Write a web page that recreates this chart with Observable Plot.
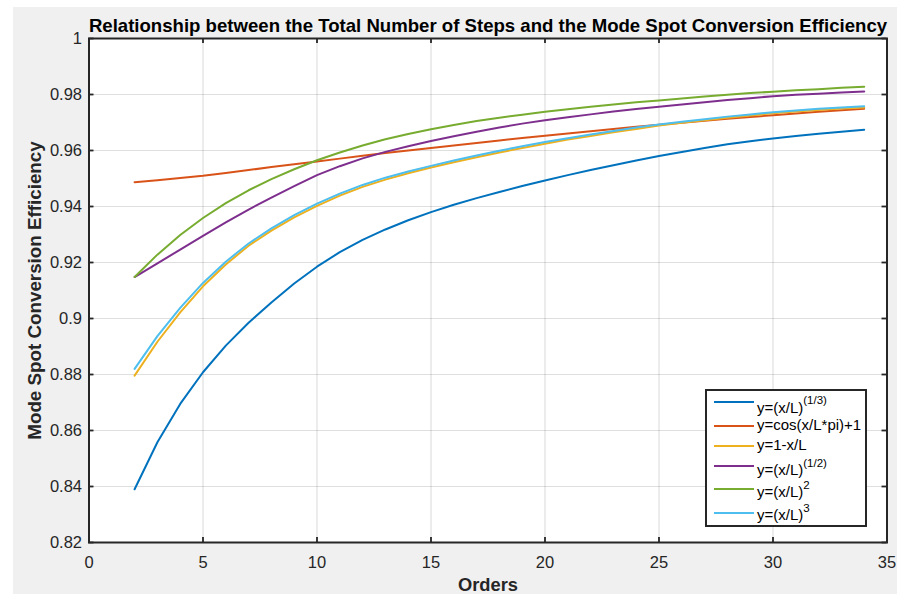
<!DOCTYPE html>
<html>
<head>
<meta charset="utf-8">
<script src="https://cdn.jsdelivr.net/npm/d3@7"></script>
<script src="https://cdn.jsdelivr.net/npm/@observablehq/plot@0.6"></script>
<style>
  html, body { margin: 0; padding: 0; background: #ffffff; }
  #wrap { position: relative; width: 897px; height: 594px; overflow: hidden; font-family: "Liberation Sans", Arial, Helvetica, sans-serif; }
  #panel { position: absolute; left: 13px; top: 7px; right: 0; bottom: 0; background: #f0f0f0; }
  #chart { position: absolute; left: 0; top: 0; }
  #legend { position: absolute; left: 705px; top: 389px; width: 158px; height: 134px; background: #fff; border: 2px solid #262626; }
  .row-line { position: absolute; height: 2.2px; width: 40px; left: 7px; }
  .row-text { position: absolute; left: 50px; font-size: 15px; line-height: 15px; color: #000; white-space: nowrap; }
  .row-text sup { font-size: 11.5px; vertical-align: baseline; position: relative; top: -8.5px; }
</style>
</head>
<body>
<div id="wrap">
  <div id="panel"></div>
  <div id="chart"></div>
  <div id="legend"></div>
</div>
<script>
// ---------- data ----------
const orders = [2,3,4,5,6,7,8,9,10,11,12,13,14,15,16,17,18,19,20,21,22,23,24,25,26,27,28,29,30,31,32,33,34];

const effCubeRoot = [0.8390,0.8558,0.8695,0.8808,0.8903,0.8985,0.9057,0.9125,0.9185,0.9237,0.9281,0.9318,0.9351,0.9380,0.9406,0.9430,0.9452,0.9473,0.9493,0.9512,0.9530,0.9547,0.9564,0.9580,0.9595,0.9609,0.9622,0.9633,0.9643,0.9652,0.9660,0.9667,0.9674];
const effCosine = [0.9487,0.9494,0.9502,0.9510,0.9520,0.9530,0.9541,0.9551,0.9561,0.9571,0.9581,0.9591,0.9600,0.9609,0.9618,0.9627,0.9636,0.9645,0.9653,0.9661,0.9669,0.9677,0.9685,0.9692,0.9699,0.9706,0.9713,0.9720,0.9726,0.9732,0.9738,0.9744,0.9749];
const effLinear = [0.8796,0.8917,0.9022,0.9115,0.9193,0.9260,0.9314,0.9361,0.9402,0.9439,0.9470,0.9496,0.9519,0.9539,0.9558,0.9576,0.9593,0.9609,0.9624,0.9639,0.9652,0.9665,0.9677,0.9689,0.9699,0.9708,0.9717,0.9725,0.9733,0.9739,0.9745,0.9750,0.9754];
const effSqrt = [0.9148,0.9197,0.9246,0.9295,0.9343,0.9389,0.9432,0.9473,0.9512,0.9544,0.9572,0.9595,0.9615,0.9634,0.9651,0.9667,0.9682,0.9696,0.9708,0.9719,0.9729,0.9739,0.9748,0.9756,0.9764,0.9772,0.9780,0.9787,0.9794,0.9799,0.9803,0.9807,0.9811];
const effSquare = [0.9148,0.9228,0.9298,0.9359,0.9412,0.9458,0.9498,0.9533,0.9565,0.9593,0.9618,0.9640,0.9659,0.9676,0.9691,0.9705,0.9717,0.9728,0.9738,0.9747,0.9756,0.9764,0.9772,0.9779,0.9786,0.9793,0.9799,0.9805,0.9810,0.9815,0.9819,0.9824,0.9828];
const effCube = [0.8820,0.8937,0.9038,0.9127,0.9203,0.9268,0.9322,0.9369,0.9410,0.9446,0.9477,0.9503,0.9525,0.9545,0.9564,0.9582,0.9599,0.9615,0.9630,0.9644,0.9657,0.9670,0.9682,0.9693,0.9703,0.9712,0.9721,0.9729,0.9737,0.9743,0.9749,0.9754,0.9758];

const seriesLabels = [
  "y=(x/L)<sup>(1/3)</sup>",
  "y=cos(x/L*pi)+1",
  "y=1-x/L",
  "y=(x/L)<sup>(1/2)</sup>",
  "y=(x/L)<sup>2</sup>",
  "y=(x/L)<sup>3</sup>"
];
const seriesColors = ["#0072BD", "#D95319", "#EDB120", "#7E2F8E", "#77AC30", "#4DBEEE"];
const seriesValues = [effCubeRoot, effCosine, effLinear, effSqrt, effSquare, effCube];

const xTicks = [0, 5, 10, 15, 20, 25, 30, 35];
const yTicks = [0.82, 0.84, 0.86, 0.88, 0.9, 0.92, 0.94, 0.96, 0.98, 1];

const titleText = "Relationship between the Total Number of Steps and the Mode Spot Conversion Efficiency";
const xLabel = "Orders";
const yLabel = "Mode Spot Conversion Efficiency";

// ---------- chart ----------
const W = 897, H = 594;
const mL = 88.5, mR = 10.5, mT = 38, mB = 52;
const frameW = W - mL - mR, frameH = H - mT - mB;
const tickLen = 5;
const axisColor = "#262626";
const font = "Liberation Sans, Arial, Helvetica, sans-serif";

const lineMarks = seriesValues.map((vals, i) =>
  Plot.line(orders.map((x, j) => ({x, y: vals[j]})), {x: "x", y: "y", stroke: seriesColors[i], strokeWidth: 2})
);

const chart = Plot.plot({
  width: W,
  height: H,
  marginLeft: mL,
  marginRight: mR,
  marginTop: mT,
  marginBottom: mB,
  x: {domain: [0, 35]},
  y: {domain: [0.82, 1]},
  style: {background: "transparent", fontFamily: font, overflow: "visible"},
  marks: [
    Plot.frame({fill: "#ffffff", stroke: null}),
    Plot.gridX(xTicks.slice(1, -1), {stroke: axisColor, strokeOpacity: 0.15, strokeWidth: 1.2}),
    Plot.gridY(yTicks.slice(1, -1), {stroke: axisColor, strokeOpacity: 0.15, strokeWidth: 1.2}),
    ...lineMarks,
    Plot.frame({stroke: axisColor, strokeWidth: 2}),
    // inward ticks (bottom, top, left, right)
    Plot.tickX(xTicks, {x: d => d, stroke: axisColor, strokeWidth: 1.8, insetTop: frameH - tickLen}),
    Plot.tickX(xTicks, {x: d => d, stroke: axisColor, strokeWidth: 1.8, insetBottom: frameH - tickLen}),
    Plot.tickY(yTicks, {y: d => d, stroke: axisColor, strokeWidth: 1.8, insetRight: frameW - tickLen}),
    Plot.tickY(yTicks, {y: d => d, stroke: axisColor, strokeWidth: 1.8, insetLeft: frameW - tickLen}),
    Plot.axisX(xTicks, {anchor: "bottom", tickSize: 0, tickPadding: 13.3, fontSize: 16.5, color: axisColor, label: null, tickFormat: d => String(d)}),
    Plot.axisY(yTicks, {anchor: "left", tickSize: 0, tickPadding: 7, fontSize: 16.5, color: axisColor, label: null, tickFormat: d => String(+d.toFixed(2))}),
    Plot.text([titleText], {frameAnchor: "top", dy: -7, lineAnchor: "bottom", textAnchor: "middle", fontWeight: "bold", fontSize: 18.6, fill: "#000"}),
    Plot.text([xLabel], {frameAnchor: "bottom", dy: 43, lineAnchor: "middle", textAnchor: "middle", fontWeight: "bold", fontSize: 18.3, fill: axisColor}),
    Plot.text([yLabel], {frameAnchor: "left", dx: -54, rotate: -90, lineAnchor: "middle", textAnchor: "middle", fontWeight: "bold", fontSize: 18.8, fill: axisColor})
  ]
});
document.getElementById("chart").appendChild(chart);

// ---------- legend ----------
const legend = document.getElementById("legend");
const legendLineY = [401.7, 425.7, 445.7, 466, 489.3, 513];
const legendBaseY = [412.3, 430, 450, 475, 496.7, 520];
const legTop = 389 + 2;
seriesLabels.forEach((lab, i) => {
  const ln = document.createElement("div");
  ln.className = "row-line";
  ln.style.background = seriesColors[i];
  ln.style.top = (legendLineY[i] - legTop - 1.1) + "px";
  legend.appendChild(ln);
  const tx = document.createElement("div");
  tx.className = "row-text";
  tx.innerHTML = lab;
  tx.style.top = (legendBaseY[i] - legTop - 12.7) + "px";
  legend.appendChild(tx);
});
</script>
</body>
</html>
